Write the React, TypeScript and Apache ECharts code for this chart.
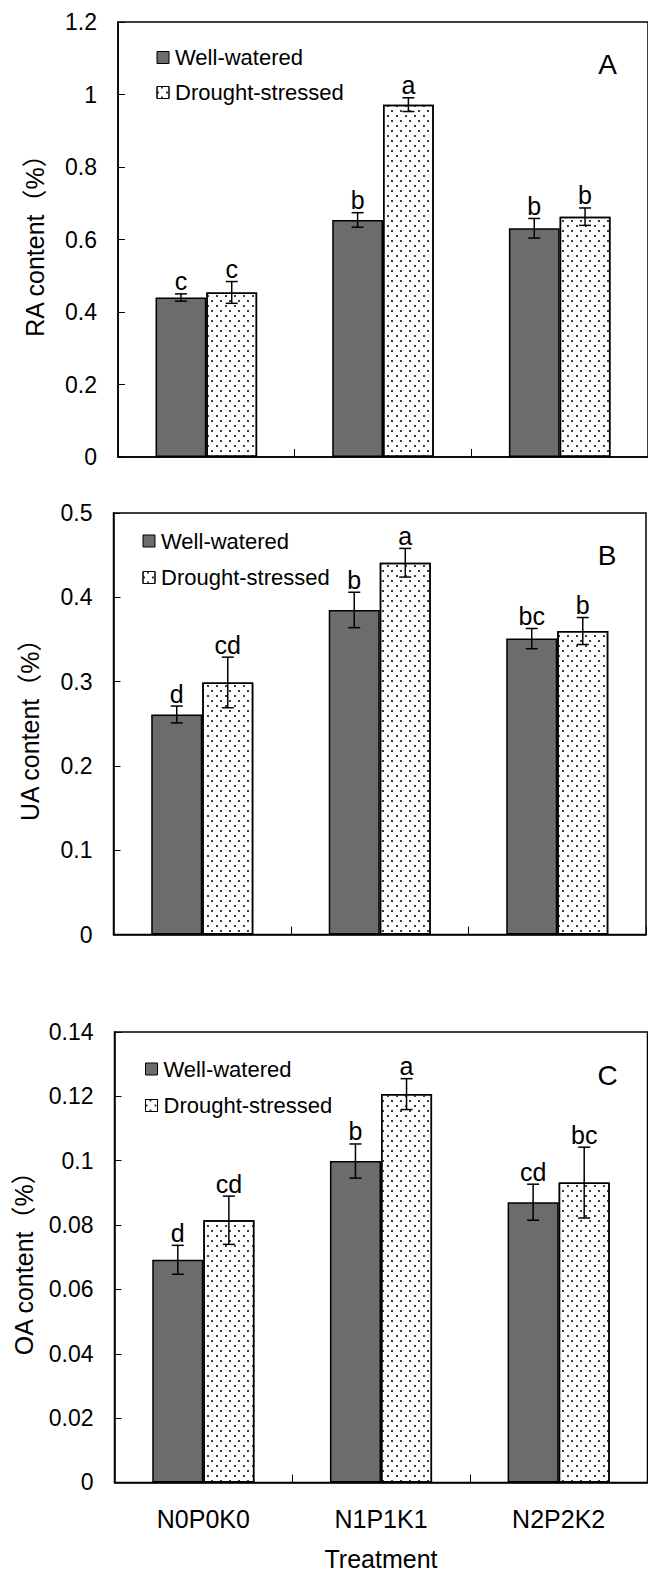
import React, { useEffect, useRef } from "react";
import * as echarts from "echarts";

const categories = ["N0P0K0", "N1P1K1", "N2P2K2"];
const seriesNames = ["Well-watered", "Drought-stressed"];
const panelLetters = ["A", "B", "C"];
const yNames = ["RA content（%）", "UA content（%）", "OA content（%）"];

// Panel A: RA
const raWW = [0.44, 0.654, 0.631];
const raWWErr = [0.01, 0.02, 0.027];
const raDS = [0.454, 0.972, 0.663];
const raDSErr = [0.03, 0.019, 0.024];
const raWWSig = ["c", "b", "b"];
const raDSSig = ["c", "a", "b"];

// Panel B: UA
const uaWW = [0.261, 0.385, 0.351];
const uaWWErr = [0.01, 0.021, 0.012];
const uaDS = [0.299, 0.441, 0.36];
const uaDSErr = [0.03, 0.017, 0.016];
const uaWWSig = ["d", "b", "bc"];
const uaDSSig = ["cd", "a", "b"];

// Panel C: OA
const oaWW = [0.0692, 0.0999, 0.0871];
const oaWWErr = [0.0045, 0.0053, 0.0056];
const oaDS = [0.0815, 0.1207, 0.0932];
const oaDSErr = [0.0075, 0.0048, 0.011];
const oaWWSig = ["d", "b", "cd"];
const oaDSSig = ["cd", "a", "bc"];

const yMax = [1.2, 0.5, 0.14];
const yInterval = [0.2, 0.1, 0.02];

const FONT = '"Liberation Sans", Arial, "Noto Sans CJK SC", sans-serif';
const WW_COLOR = "#6c6c6c";
const BAR_FRAC = 0.2875;

const panels = [
  { ww: raWW, wwErr: raWWErr, ds: raDS, dsErr: raDSErr, wwSig: raWWSig, dsSig: raDSSig },
  { ww: uaWW, wwErr: uaWWErr, ds: uaDS, dsErr: uaDSErr, wwSig: uaWWSig, dsSig: uaDSSig },
  { ww: oaWW, wwErr: oaWWErr, ds: oaDS, dsErr: oaDSErr, wwSig: oaWWSig, dsSig: oaDSSig },
];

const grids = [
  { left: 118, top: 22, width: 532.5, height: 435 },
  { left: 113.5, top: 513, width: 532.5, height: 421.5 },
  { left: 114.5, top: 1032, width: 533, height: 454 },
];
const legendPos = [
  { left: 156.5, top: 46.5, itemGap: 13 },
  { left: 142.5, top: 530, itemGap: 14.5 },
  { left: 145, top: 1058, itemGap: 14.5 },
];
const letterPos = [
  [607.5, 64],
  [607, 555.5],
  [607.5, 1075],
];
const nameGaps = [70.5, 71, 78];

const dsDecal = {
  symbol: "rect",
  symbolSize: 1,
  color: "#3a3a3a",
  dashArrayX: [[1.5, 6.5], [0, 4, 1.5, 2.5]],
  dashArrayY: [1.5, 2.5],
  rotation: 0,
};

function buildOption() {
  const series: any[] = [];
  const xAxes: any[] = [];
  const yAxes: any[] = [];
  const legends: any[] = [];
  const graphics: any[] = [];

  panels.forEach((p, k) => {
    const isLast = k === panels.length - 1;
    xAxes.push({
      type: "category",
      gridIndex: k,
      data: categories,
      axisLine: { lineStyle: { color: "#000", width: 1.5 } },
      axisTick: { show: true, inside: true, length: 8, alignWithLabel: false, lineStyle: { color: "#000", width: 1 } },
      axisLabel: {
        show: isLast,
        color: "#000",
        fontSize: 25,
        fontFamily: FONT,
        margin: 24,
      },
      name: isLast ? "Treatment" : "",
      nameLocation: "middle",
      nameGap: 63.5,
      nameTextStyle: { color: "#000", fontSize: 25, fontFamily: FONT },
      splitLine: { show: false },
    });
    yAxes.push({
      type: "value",
      gridIndex: k,
      min: 0,
      max: yMax[k],
      interval: yInterval[k],
      axisLine: { show: true, lineStyle: { color: "#000", width: 1.5 } },
      axisTick: { show: true, inside: true, length: 7, lineStyle: { color: "#000", width: 1 } },
      axisLabel: { color: "#000", fontSize: 23, fontFamily: FONT, margin: 21 },
      splitLine: { show: false },
      name: yNames[k],
      nameLocation: "middle",
      nameGap: nameGaps[k],
      nameTextStyle: { color: "#000", fontSize: 25, fontFamily: FONT },
    });

    series.push({
      type: "bar",
      name: seriesNames[0],
      xAxisIndex: k,
      yAxisIndex: k,
      data: p.ww,
      barWidth: (BAR_FRAC * 100).toFixed(2) + "%",
      barGap: "0%",
      itemStyle: { color: WW_COLOR, borderColor: "#000", borderWidth: 1.5 },
    });
    series.push({
      type: "bar",
      name: seriesNames[1],
      xAxisIndex: k,
      yAxisIndex: k,
      data: p.ds,
      barWidth: (BAR_FRAC * 100).toFixed(2) + "%",
      barGap: "0%",
      itemStyle: { color: "#ffffff", borderColor: "#000", borderWidth: 1.5, decal: dsDecal },
    });

    const items: any[] = [];
    categories.forEach((_, i) => {
      items.push({ cat: i, v: p.ww[i], e: p.wwErr[i], sig: p.wwSig[i], s: 0 });
      items.push({ cat: i, v: p.ds[i], e: p.dsErr[i], sig: p.dsSig[i], s: 1 });
    });
    series.push({
      type: "custom",
      name: "err" + k,
      xAxisIndex: k,
      yAxisIndex: k,
      z: 5,
      silent: true,
      data: items.map((it) => [it.cat, it.v, it.e, it.s]),
      encode: { x: 0, y: 1 },
      renderItem: (params: any, api: any) => {
        const it = items[params.dataIndex];
        const band = api.size([1, 0])[0];
        const half = (band * BAR_FRAC) / 2;
        const cx = api.coord([it.cat, it.v])[0] + (it.s === 0 ? -half : half);
        const yTop = api.coord([it.cat, it.v + it.e])[1];
        const yBot = api.coord([it.cat, it.v - it.e])[1];
        const cap = 6;
        const ls = { stroke: "#000", lineWidth: 1.5 };
        return {
          type: "group",
          children: [
            { type: "line", shape: { x1: cx, y1: yTop, x2: cx, y2: yBot }, style: ls },
            { type: "line", shape: { x1: cx - cap, y1: yTop, x2: cx + cap, y2: yTop }, style: ls },
            { type: "line", shape: { x1: cx - cap, y1: yBot, x2: cx + cap, y2: yBot }, style: ls },
            {
              type: "text",
              x: cx,
              y: yTop,
              style: {
                text: it.sig,
                fill: "#000",
                fontSize: 25,
                fontFamily: FONT,
                align: "center",
                verticalAlign: "bottom",
              },
            },
          ],
        };
      },
    });

    legends.push({
      orient: "vertical",
      left: legendPos[k].left,
      top: legendPos[k].top,
      itemGap: legendPos[k].itemGap,
      itemWidth: 12,
      itemHeight: 12,
      padding: 0,
      icon: "rect",
      textStyle: { color: "#000", fontSize: 22, fontFamily: FONT, padding: [0, 0, 0, 1] },
      data: [
        { name: seriesNames[0], itemStyle: { color: WW_COLOR, borderColor: "#000", borderWidth: 1 } },
        { name: seriesNames[1], itemStyle: { color: "#fff", borderColor: "#000", borderWidth: 1 } },
      ],
    });

    graphics.push({
      type: "text",
      x: letterPos[k][0],
      y: letterPos[k][1],
      style: {
        text: panelLetters[k],
        fill: "#000",
        fontSize: 28,
        fontFamily: FONT,
        align: "center",
        verticalAlign: "middle",
      },
    });
  });

  return {
    animation: false,
    backgroundColor: "#fff",
    textStyle: { fontFamily: FONT },
    grid: grids.map((g) => ({ ...g, show: true, borderColor: "#000", borderWidth: 1.5, backgroundColor: "transparent" })),
    xAxis: xAxes,
    yAxis: yAxes,
    legend: legends,
    series,
    graphic: graphics,
  };
}

export default function App() {
  const ref = useRef<HTMLDivElement>(null);
  useEffect(() => {
    if (!ref.current) return;
    const chart = echarts.init(ref.current, null, { renderer: "svg" });
    chart.setOption(buildOption() as any);
    return () => chart.dispose();
  }, []);
  return (
    <div
      ref={ref}
      style={{ position: "absolute", left: 0, top: 0, width: 648, height: 1572, background: "#fff" }}
    />
  );
}
